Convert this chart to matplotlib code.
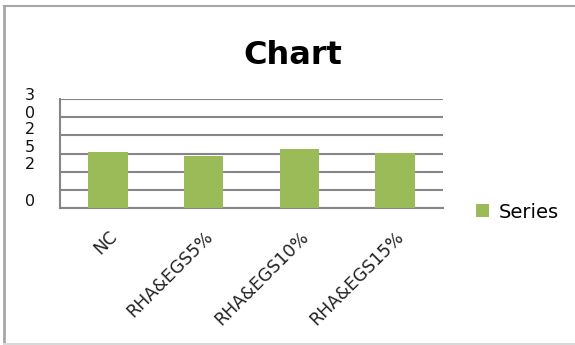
import numpy as np
import matplotlib.pyplot as plt
from matplotlib.lines import Line2D

# Datos del grafico
categorias = ['NC', 'RHA&EGS5%', 'RHA&EGS10%', 'RHA&EGS15%']
valores = [15.4, 14.3, 16.2, 15.1]
etiquetas_y = ['3', '0', '2', '5', '2', '0']

fig = plt.figure(figsize=(5.75, 3.45), dpi=100)
W, H = 575, 345

# Area de trazado en pixeles
x0, x1, y0, y1 = 60, 443, 208, 99
ax = fig.add_axes([x0 / W, 1 - y0 / H, (x1 - x0) / W, (y0 - y1) / H])

x = np.arange(len(categorias))
ax.bar(x, valores, width=0.41, color='#9BBB59', label='Series', zorder=3)
ax.set_xlim(-0.5, len(categorias) - 0.5)
ax.set_ylim(0, 30)
ax.set_yticks(np.arange(0, 31, 5))
ax.set_yticklabels([])
ax.tick_params(axis='y', length=0)
ax.tick_params(axis='x', length=0, pad=14)
ax.grid(axis='y', color='#868686', linewidth=1.5, zorder=0)
ax.set_xticks(x)
ax.set_xticklabels(categorias, rotation=45, ha='right', va='top',
                   rotation_mode='anchor', fontsize=12.5, color='#222222')
for lado in ['top', 'right']:
    ax.spines[lado].set_visible(False)
for lado in ['left', 'bottom']:
    ax.spines[lado].set_color('#868686')
    ax.spines[lado].set_linewidth(1.5)

# Etiquetas del eje vertical, apiladas
posiciones_y = [96, 113, 130, 147, 164, 201]
for txt, py in zip(etiquetas_y, posiciones_y):
    fig.text(30 / W, 1 - py / H, txt, ha='center', va='center', fontsize=11.5, color='#111111')

# Titulo
fig.text(293 / W, 1 - 55 / H, 'Chart', ha='center', va='center',
         fontsize=23, fontweight='bold', color='black')

# Leyenda
ax.legend(loc='center left', bbox_to_anchor=(476 / W, 1 - 212 / H), bbox_transform=fig.transFigure,
          frameon=False, fontsize=14, handlelength=0.65, handleheight=0.65, handletextpad=0.5,
          borderpad=0, borderaxespad=0)

# Borde del grafico
fig.add_artist(Line2D([4 / W, 1], [1 - 6 / H, 1 - 6 / H], color='#a6a6a6', linewidth=1.5))
fig.add_artist(Line2D([4 / W, 4 / W], [1 - 6 / H, 1 - 344 / H], color='#a6a6a6', linewidth=2))
fig.add_artist(Line2D([4 / W, 1], [1 - 344 / H, 1 - 344 / H], color='#d9d9d9', linewidth=1.5))

fig.savefig('out.png', dpi=100)
